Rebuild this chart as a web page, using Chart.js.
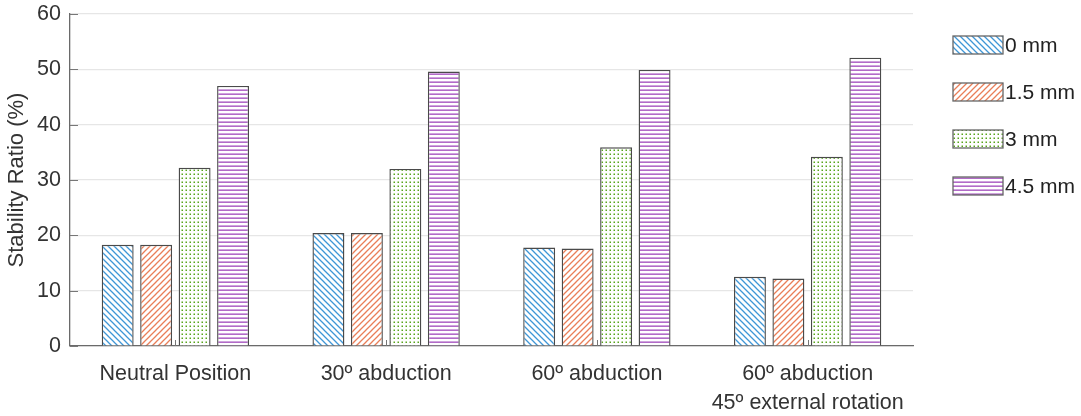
<!DOCTYPE html>
<html>
<head>
<meta charset="utf-8">
<script src="https://cdn.jsdelivr.net/npm/chart.js@4"></script>
<style>
  html, body { margin: 0; padding: 0; background: #fff; }
  #wrap { width: 1081px; height: 416px; }
</style>
</head>
<body>
<div id="wrap"><canvas id="miGrafica" width="1081" height="416"></canvas></div>
<script>
var categorias = ["Neutral Position", "30º abduction", "60º abduction", ["60º abduction", "45º external rotation"]];
var series = ["0 mm", "1.5 mm", "3 mm", "4.5 mm"];
var valores0 = [18.3, 20.4, 17.8, 12.5];
var valores15 = [18.3, 20.4, 17.6, 12.2];
var valores3 = [32.2, 32.0, 35.9, 34.2];
var valores45 = [47.0, 49.6, 49.9, 52.1];
var yTicks = [0, 10, 20, 30, 40, 50, 60];

var fuente = "'Liberation Sans', Arial, Helvetica, sans-serif";

// patrones de relleno (hatch) para cada serie
function patron(tipo, color) {
  var c = document.createElement("canvas");
  var ctx = c.getContext("2d");
  var s = 6;
  if (tipo == "puntos") s = 4.4;
  if (tipo == "horizontal") s = 4;
  c.width = s; c.height = s;
  ctx.fillStyle = "#fff";
  ctx.fillRect(0, 0, s, s);
  ctx.strokeStyle = color;
  ctx.fillStyle = color;
  ctx.lineWidth = 1.3;
  if (tipo == "abajo") {
    ctx.beginPath();
    ctx.moveTo(-1, -1); ctx.lineTo(s + 1, s + 1);
    ctx.moveTo(-1, s - 1); ctx.lineTo(1, s + 1);
    ctx.moveTo(s - 1, -1); ctx.lineTo(s + 1, 1);
    ctx.stroke();
  } else if (tipo == "arriba") {
    ctx.beginPath();
    ctx.moveTo(-1, s + 1); ctx.lineTo(s + 1, -1);
    ctx.moveTo(-1, 1); ctx.lineTo(1, -1);
    ctx.moveTo(s - 1, s + 1); ctx.lineTo(s + 1, s - 1);
    ctx.stroke();
  } else if (tipo == "puntos") {
    ctx.fillRect(1.5, 1.5, 1.5, 1.5);
  } else {
    ctx.fillRect(0, 1.5, s, 1.3);
  }
  return ctx.createPattern(c, "repeat");
}

var rellenos = [
  patron("abajo", "#3f96d6"),
  patron("arriba", "#e97e58"),
  patron("puntos", "#58a51c"),
  patron("horizontal", "#a048bb")
];

// leyenda dibujada a mano, a la derecha
var leyenda = {
  id: "leyendaDerecha",
  afterDraw: function (chart) {
    var ctx = chart.ctx;
    ctx.save();
    chart.data.datasets.forEach(function (ds, i) {
      var y = 45 + i * 47;
      ctx.fillStyle = ds.backgroundColor;
      ctx.fillRect(953, y - 9, 50, 18);
      ctx.strokeStyle = "#666";
      ctx.lineWidth = 1.3;
      ctx.strokeRect(953, y - 9, 50, 18);
      ctx.fillStyle = "#222";
      ctx.font = "21px " + fuente;
      ctx.textBaseline = "middle";
      ctx.textAlign = "left";
      ctx.fillText(ds.label, 1005, y + 1);
    });
    ctx.restore();
  }
};

// marcas pequeñas del eje x (hacia dentro) y del eje y
var marcas = {
  id: "marcas",
  afterDatasetsDraw: function (chart) {
    var ctx = chart.ctx;
    var x = chart.scales.x, y = chart.scales.y;
    ctx.save();
    ctx.strokeStyle = "#777";
    ctx.lineWidth = 1;
    for (var i = 0; i < categorias.length; i++) {
      var px = Math.round(x.getPixelForValue(i)) + 0.5;
      ctx.beginPath();
      ctx.moveTo(px, y.bottom);
      ctx.lineTo(px, y.bottom - 6);
      ctx.stroke();
    }
    yTicks.forEach(function (v) {
      var py = Math.round(y.getPixelForValue(v)) + 0.5;
      ctx.beginPath();
      ctx.moveTo(x.left, py);
      ctx.lineTo(x.left + 8, py);
      ctx.stroke();
    });
    ctx.restore();
  }
};

var datos = [valores0, valores15, valores3, valores45];

new Chart(document.getElementById("miGrafica").getContext("2d"), {
  type: "bar",
  data: {
    labels: categorias,
    datasets: series.map(function (s, i) {
      return {
        label: s,
        data: datos[i],
        backgroundColor: rellenos[i],
        borderColor: "#4a4a4a",
        borderWidth: 1.4,
        categoryPercentage: 0.73,
        barPercentage: 0.83
      };
    })
  },
  options: {
    responsive: false,
    animation: false,
    layout: { padding: { top: 14, right: 168, left: 0, bottom: 0 } },
    plugins: {
      legend: { display: false },
      tooltip: { enabled: false }
    },
    scales: {
      x: {
        grid: { display: false },
        border: { color: "#6a6a6a", width: 1.3 },
        ticks: {
          color: "#333",
          font: { family: fuente, size: 21.5, lineHeight: 1.35 },
          padding: 6,
          maxRotation: 0,
          autoSkip: false
        },
        afterFit: function (scale) { scale.height = 70; }
      },
      y: {
        min: 0,
        max: 60,
        afterBuildTicks: function (scale) {
          scale.ticks = yTicks.map(function (v) { return { value: v }; });
        },
        grid: { color: "#e6e6e6", lineWidth: 1.2, drawTicks: false },
        border: { color: "#6a6a6a", width: 1.3 },
        ticks: {
          color: "#333",
          font: { family: fuente, size: 21.5 },
          padding: 9
        },
        title: {
          display: true,
          text: "Stability Ratio (%)",
          color: "#333",
          font: { family: fuente, size: 22 },
          padding: { top: 4, bottom: 0 }
        },
        afterFit: function (scale) {
          scale.width = 70;
          scale.paddingTop = 6;
        }
      }
    }
  },
  plugins: [leyenda, marcas]
});
</script>
</body>
</html>
